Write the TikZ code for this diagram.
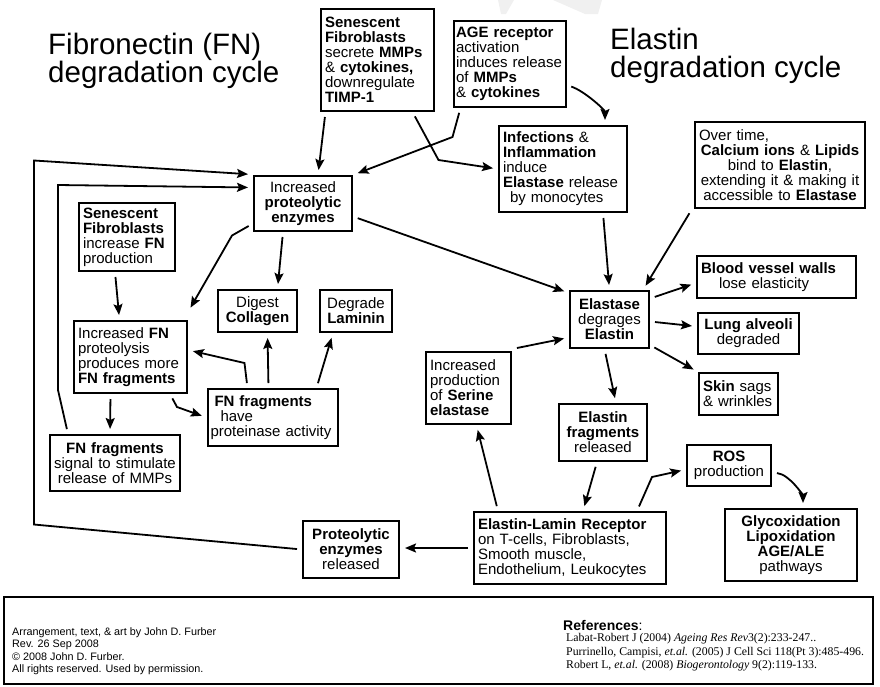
\documentclass[tikz,border=0pt]{standalone}
\usepackage{fontspec}
\setmainfont{Liberation Sans}
\newfontfamily\reffont{Liberation Serif}
\usepackage{tikz}
\usetikzlibrary{arrows.meta}
\tikzset{>={Stealth[length=11pt, width=9pt, inset=2pt]}}
\newcommand{\boxfont}{\fontsize{15}{15}\selectfont\hyphenpenalty=10000}

\begin{document}
\begin{tikzpicture}[
	x=1pt, y=-1pt,
	box/.style = {
		rectangle, draw,
		line width=2pt,
		inner xsep=4pt, inner ysep=2pt,
		font=\boxfont
	},
	title/.style = {
		anchor=north west,
		inner sep=0pt,
		align=left,
		font=\fontsize{29.5}{28}\selectfont
	},
	note/.style = {
		anchor=north west,
		inner sep=0pt,
		align=left
	},
	link/.style = {
		->, line width=1.8pt,
		shorten <=5pt, shorten >=5pt
	}
]
	\useasboundingbox (0,0) rectangle (880,686);
	\fill[gray!12] (498,0) -- (514,0) -- (506,14) -- (501,14) -- cycle;
	\fill[gray!12] (553,0) -- (602,0) -- (598,14) -- (585,14) -- cycle;
	\node[title] (fntitle) at (48,33) {Fibronectin (FN)\\degradation cycle};
	\node[title] (eltitle) at (610,28) {Elastin\\degradation cycle};
	% Top row
	\node[box, text width=105pt, minimum height=102pt, align=left] (sfmmp) at (377.5,60)
		{\textbf{Senescent}\\\textbf{Fibroblasts}\\secrete \textbf{MMPs}\\\& \textbf{cytokines,}\\downregulate\\\textbf{TIMP-1}};
	\node[box, inner xsep=2.5pt, text width=107pt, minimum height=86pt, align=left] (age) at (509.5,64)
		{\textbf{AGE receptor}\\activation\\induces release\\of \textbf{MMPs}\\\& \textbf{cytokines}};
	\node[box, text width=120pt, minimum height=86pt, align=left] (infl) at (563,169)
		{\textbf{Infections} \&\\\textbf{Inflammation}\\induce\\\textbf{Elastase} release\\\hspace*{7pt}by monocytes};
	\node[box, text width=162pt, minimum height=86pt, align=center] (calc) at (780,165)
		{\makebox[\linewidth][l]{Over time,}\\\textbf{Calcium ions} \& \textbf{Lipids}\\bind to \textbf{Elastin},\\extending it \& making it\\accessible to \textbf{Elastase}};
	% Fibronectin cycle
	\node[box, text width=90pt, minimum height=55pt, align=center] (prot) at (303,203.5)
		{Increased\\\textbf{proteolytic}\\\textbf{enzymes}};
	\node[box, text width=88pt, minimum height=68pt, align=left] (sffn) at (127,237)
		{\textbf{Senescent}\\\textbf{Fibroblasts}\\increase \textbf{FN}\\production};
	\node[box, text width=71pt, minimum height=42pt, align=center] (digest) at (257.5,311)
		{Digest\\\textbf{Collagen}};
	\node[box, text width=64pt, minimum height=42pt, align=center] (degrade) at (356,311)
		{Degrade\\\textbf{Laminin}};
	\node[box, text width=105pt, minimum height=72pt, align=left] (incfn) at (130.5,357)
		{Increased \textbf{FN}\\proteolysis\\produces more\\\textbf{FN fragments}};
	\node[box, inner xsep=3pt, text width=124pt, minimum height=57pt, align=left] (fnprot) at (272.5,417.5)
		{\hspace*{4pt}\textbf{FN fragments}\\\hspace*{10pt}have\\proteinase activity};
	\node[box, inner xsep=3pt, text width=124pt, minimum height=56pt, align=center] (fnsig) at (115,463)
		{\textbf{FN fragments}\\signal to stimulate\\release of MMPs};
	% Elastin cycle
	\node[box, text width=71pt, minimum height=57pt, align=center] (elastase) at (609.5,319.5)
		{\textbf{Elastase}\\degrages\\\textbf{Elastin}};
	\node[box, text width=151pt, minimum height=42pt, align=left] (blood) at (776.5,277)
		{\textbf{Blood vessel walls}\\\hspace*{18pt}lose elasticity};
	\node[box, text width=93pt, minimum height=41pt, align=center] (lung) at (748.5,333.5)
		{\textbf{Lung alveoli}\\degraded};
	\node[box, text width=71pt, minimum height=42pt, align=left] (skin) at (738.5,394)
		{\textbf{Skin} sags\\\& wrinkles};
	\node[box, text width=77pt, minimum height=72pt, align=left] (serine) at (468.5,388)
		{Increased\\production\\of \textbf{Serine}\\\textbf{elastase}};
	\node[box, text width=80pt, minimum height=57pt, align=center] (elfrag) at (603,432.5)
		{\textbf{Elastin}\\\textbf{fragments}\\released};
	\node[box, text width=76pt, minimum height=41pt, align=center] (ros) at (729,465.5)
		{\textbf{ROS}\\production};
	\node[box, text width=124pt, minimum height=72pt, align=center] (glyco) at (791,545)
		{\textbf{Glycoxidation}\\\textbf{Lipoxidation}\\\textbf{AGE/ALE}\\pathways};
	\node[box, text width=184pt, minimum height=72pt, align=left] (elr) at (570,548)
		{\textbf{Elastin-Lamin Receptor}\\on T-cells, Fibroblasts,\\Smooth muscle,\\Endothelium, Leukocytes};
	\node[box, text width=88pt, minimum height=57pt, align=center] (protrel) at (351,549.5)
		{\textbf{Proteolytic}\\\textbf{enzymes}\\released};
	% Connections, top
	\draw[link] ([xshift=-52pt]sfmmp.south) -- ([xshift=15pt]prot.north);
	\draw[link] ([xshift=35pt]sfmmp.south) -- ++(26,48) -- (infl.west);
	\draw[link] ([xshift=-49pt]age.south) -- ++(-8,29) -- (prot.north east);
	\draw[link] ([yshift=-21pt]age.east) .. controls +(18,6) and +(0,-15) .. ([xshift=42pt]infl.north);
	% Connections, FN cycle
	\draw[link] ([yshift=-20pt]prot.west) -- ++(-21,12) -- ([yshift=8pt]incfn.north east);
	\draw[link] ([xshift=-20pt]prot.south) -- ([xshift=20pt]digest.north);
	\draw[link] ([yshift=-13pt]prot.east) -- ([yshift=-3pt]elastase.north west);
	\draw[link] ([xshift=-12pt]sffn.south) -- ([xshift=-11pt]incfn.north);
	\draw[link] ([xshift=-20pt]incfn.south) -- ([xshift=-5pt]fnsig.north);
	\draw[link] ([xshift=-18pt]incfn.south east) -- ++(7,13) -- (fnprot.west);
	\draw[link] ([xshift=-25pt]fnprot.north) -- ++(-3,-25) -- ([yshift=7pt]incfn.east);
	\draw[link] ([xshift=-4pt]fnprot.north) -- ([xshift=10pt]digest.south);
	\draw[link] ([xshift=44pt]fnprot.north) -- ([xshift=-23pt]degrade.south);
	\draw[link] ([xshift=-47pt]fnsig.north) -- ++(-10,-44) -- ++(0,-205) -- ([yshift=16pt]prot.west);
	% Connections, elastin cycle
	\draw[link] ([xshift=40pt]infl.south) -- (elastase.north);
	\draw[link] ([xshift=-88pt]calc.south) -- ([xshift=-7pt]elastase.north east);
	\draw[link] ([yshift=21pt]elastase.east) -- ([yshift=-6pt]blood.west);
	\draw[link] ([yshift=-2pt]elastase.east) -- ([yshift=7pt]lung.west);
	\draw[link] ([yshift=4pt]elastase.south east) -- (skin.north west);
	\draw[link] ([xshift=-5pt]elastase.south) -- ([xshift=13pt]elfrag.north);
	\draw[link] ([yshift=2pt]serine.north east) -- ([yshift=-18pt]elastase.west);
	\draw[link] ([xshift=-72pt]elr.north) -- ([xshift=8pt]serine.south);
	\draw[link] ([xshift=-6pt]elfrag.south) -- ([xshift=13pt]elr.north);
	\draw[link] ([xshift=67pt]elr.north) -- ++(15,-34) -- ([yshift=-4pt]ros.west);
	\draw[link] ([yshift=-7pt]ros.east) .. controls +(18,2) and +(0,-12) .. ([xshift=12pt]glyco.north);
	\draw[link] (elr.west) -- (elr.west -| protrel.east);
	\draw[link] (protrel.west) -- ++(-268,-25) -- ++(0,-364) -- ([yshift=29pt]prot.west);
	% Footer
	\draw[line width=2pt] (4,597) rectangle (873,684);
	\node[note, font=\fontsize{10.8}{12.4}\selectfont] (credit) at (12,627.5)
		{Arrangement, text, \& art by John D. Furber\\Rev. 26 Sep 2008\\ © 2008 John D. Furber.\\All rights reserved. Used by permission.};
	\node[note, font=\fontsize{14}{14}\selectfont] (refhead) at (563,620.5) {\textbf{References}:};
	\node[note, font=\reffont\fontsize{11.8}{13.5}\selectfont] (refs) at (566,633.5)
		{Labat-Robert J (2004) \textit{Ageing Res Rev}3(2):233-247..\\
		Purrinello, Campisi, \textit{et.al.} (2005) J Cell Sci 118(Pt 3):485-496.\\
		Robert L, \textit{et.al.} (2008) \textit{Biogerontology} 9(2):119-133.};
\end{tikzpicture}
\end{document}
